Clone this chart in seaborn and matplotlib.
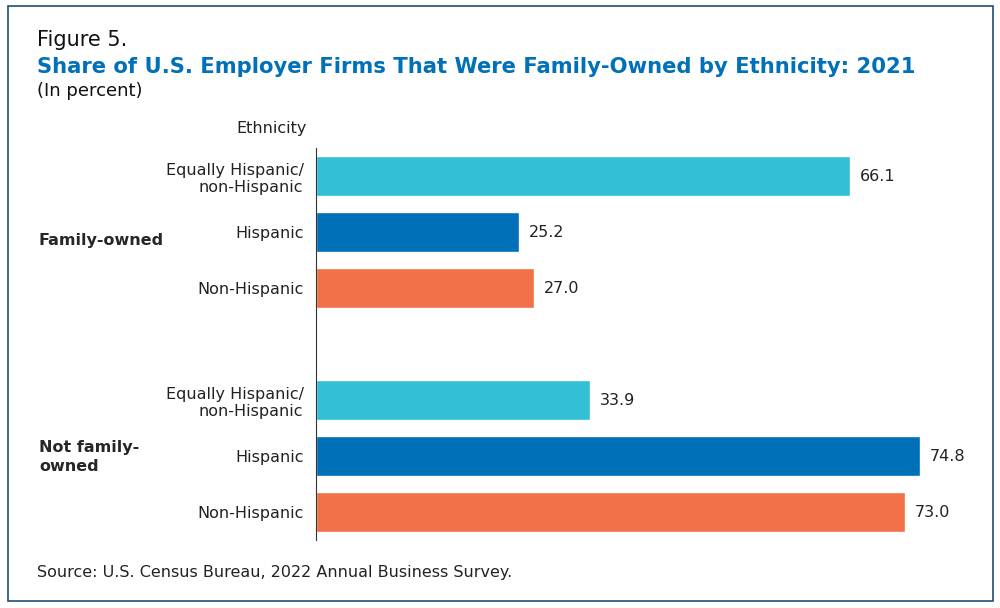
import matplotlib
matplotlib.use("Agg")
import matplotlib.pyplot as plt
import seaborn as sns
import pandas as pd
from matplotlib.patches import Rectangle

groups = ["Family-owned", "Family-owned", "Family-owned",
          "Not family-\nowned", "Not family-\nowned", "Not family-\nowned"]
ethnicity = ["Equally Hispanic/\nnon-Hispanic", "Hispanic", "Non-Hispanic",
             "Equally Hispanic/\nnon-Hispanic", "Hispanic", "Non-Hispanic"]
values = [66.1, 25.2, 27.0, 33.9, 74.8, 73.0]
positions = [0, 1, 2, 4, 5, 6]

colors = {"Equally Hispanic/\nnon-Hispanic": "#33BFD6", "Hispanic": "#0070B8", "Non-Hispanic": "#F37148"}

df = pd.DataFrame({"group": groups, "eth": ethnicity, "value": values, "pos": positions})

sns.set_style("white")
plt.rcParams["font.family"] = ["DejaVu Sans"]

fig = plt.figure(figsize=(10, 6.08), dpi=100)
ax = fig.add_axes([0.316, 1 - 540 / 608, 0.646, 392 / 608])

sns.barplot(data=df, x="value", y="pos", hue="eth", palette=colors, orient="y",
            native_scale=True, dodge=False, width=0.72, saturation=1, legend=False, ax=ax)

ax.set_xlim(0, 80)
ax.set_ylim(6.5, -0.5)
ax.set_yticks(positions)
ax.set_yticklabels(ethnicity, fontsize=11.5, color="#222222")
for t in ax.get_yticklabels():
    t.set_multialignment("right")
ax.tick_params(axis="y", length=0, pad=9)
ax.set_xticks([])
ax.set_xlabel("")
ax.set_ylabel("")
for s in ["top", "right", "bottom"]:
    ax.spines[s].set_visible(False)
ax.spines["left"].set_color("#333333")
ax.spines["left"].set_linewidth(0.8)

for v, p in zip(values, positions):
    ax.text(v + 1.2, p, f"{v:.1f}", va="center", ha="left", fontsize=11.5, color="#222222")

# group labels
fig.text(0.039, 1 - 240 / 608, "Family-owned", fontsize=11.5, fontweight="bold", va="center")
fig.text(0.039, 1 - 457 / 608, "Not family-\nowned", fontsize=11.5, fontweight="bold", va="center",
         linespacing=1.3)
fig.text(0.307, 1 - 129 / 608, "Ethnicity", fontsize=11.5, ha="right", va="center", color="#222222")

fig.text(0.037, 1 - 40 / 608, "Figure 5.", fontsize=15, va="center", color="#111111")
fig.text(0.037, 1 - 67 / 608, "Share of U.S. Employer Firms That Were Family-Owned by Ethnicity: 2021",
         fontsize=15.2, fontweight="bold", va="center", color="#0070B8")
fig.text(0.037, 1 - 91 / 608, "(In percent)", fontsize=13, va="center", color="#111111")
fig.text(0.037, 1 - 572 / 608, "Source: U.S. Census Bureau, 2022 Annual Business Survey.",
         fontsize=11.5, va="center", color="#222222")

fig.patches.append(Rectangle((0.008, 0.012), 0.985, 0.978, transform=fig.transFigure,
                             fill=False, edgecolor="#1F4E79", linewidth=1.2))

fig.savefig("out.png", dpi=100)
